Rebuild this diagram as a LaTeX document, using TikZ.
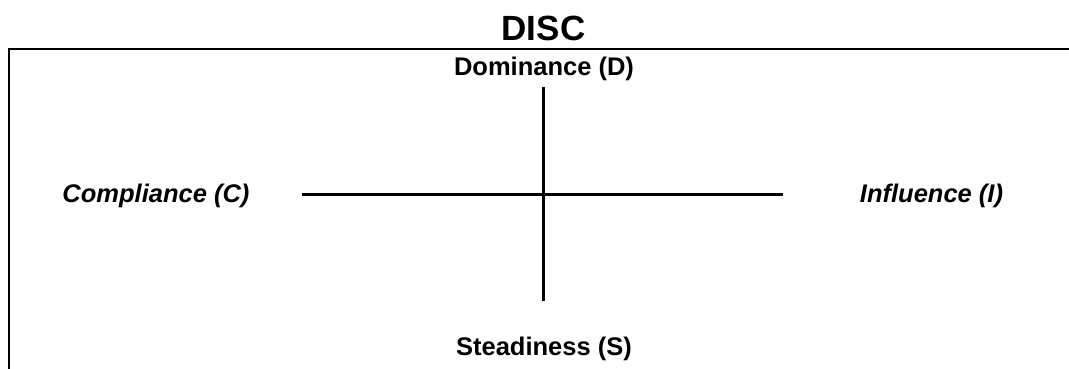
\documentclass[tikz,border=0pt]{standalone}
\usepackage{fontspec}
\setmainfont{Liberation Sans}
\begin{document}
\begin{tikzpicture}[x=1pt,y=1pt,
  title/.style={anchor=base,inner sep=0pt,font=\fontsize{35}{40}\selectfont\bfseries},
  axislabel/.style={anchor=base,inner sep=0pt,font=\fontsize{25.5}{30}\selectfont\bfseries},
  sidelabel/.style={anchor=base,inner sep=0pt,font=\fontsize{25.5}{30}\selectfont\bfseries\itshape},
  axis/.style={line width=2.2pt},
  frame/.style={line width=2.2pt}]
\useasboundingbox (0,0) rectangle (1069,-368);
% frame
\coordinate (fb) at (9,-370);
\coordinate (ftl) at (9,-49);
\coordinate (ftr) at (1071,-49);
\draw[frame] (fb) -- (ftl) -- (ftr);
% texts
\node[title] (disc) at (543.5,-40) {DISC};
\node[axislabel] (dom) at (544,-75) {Dominance (D)};
\node[axislabel] (ste) at (544,-355) {Steadiness (S)};
\node[sidelabel] (com) at (156,-202) {Compliance (C)};
\node[sidelabel] (inf) at (931.5,-202) {Influence (I)};
% axes
\coordinate (vt) at (543.5,-87);
\coordinate (vb) at (543.5,-301);
\coordinate (hl) at (302,-194.5);
\coordinate (hr) at (783,-194.5);
\draw[axis] (vt) -- (vb);
\draw[axis] (hl) -- (hr);
\end{tikzpicture}
\end{document}
